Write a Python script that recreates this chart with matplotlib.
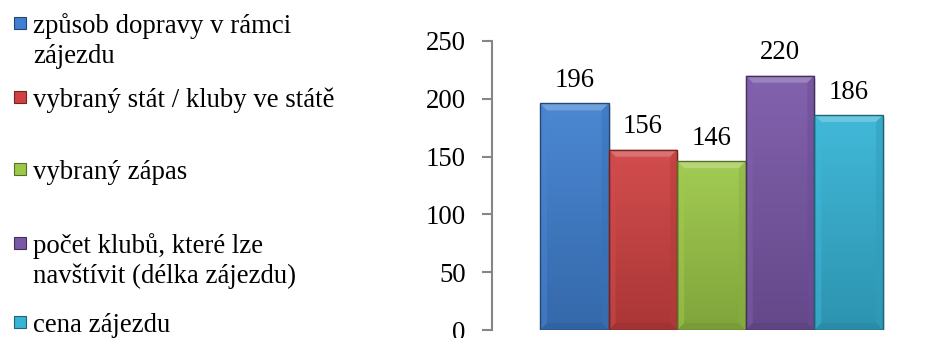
import numpy as np
import matplotlib
matplotlib.use("Agg")
import matplotlib.pyplot as plt
from matplotlib.patches import Rectangle, Polygon
from matplotlib.colors import to_rgb

# Survey answers: what decides the choice of a football trip
labels = [
    "způsob dopravy v rámci\nzájezdu",
    "vybraný stát / kluby ve státě",
    "vybraný zápas",
    "počet klubů, které lze\nnavštívit (délka zájezdu)",
    "cena zájezdu",
]
values = [196, 156, 146, 220, 186]
colors = ["#4080d0", "#d04242", "#9cc848", "#7a58a8", "#36b4d6"]
yticks = [0, 50, 100, 150, 200, 250]

W, H = 938, 338
plt.rcParams["font.family"] = ["Liberation Serif", "DejaVu Serif"]
FS = 19.3

fig = plt.figure(figsize=(W / 100, H / 100), dpi=100)
ax = fig.add_axes([492 / W, 8 / H, (931 - 492) / W, (330 - 41) / H])

n = len(values)
bw = 1.0 / n
xs = (np.arange(n) - (n - 1) / 2) * bw
ax.set_xlim(-0.64, 0.64)
ax.set_ylim(0, 250)


def shade(c, f):
    r = np.array(to_rgb(c))
    if f >= 0:
        return tuple(r + (1 - r) * f)
    return tuple(r * (1 + f))


bars = ax.bar(xs, values, width=bw, color=colors, edgecolor="none", zorder=2)

# pixel -> data scale factors
px_x = (ax.get_xlim()[1] - ax.get_xlim()[0]) / (931 - 492)
px_y = 250 / (330 - 41)

for bar, c in zip(bars, colors):
    x0, y0 = bar.get_x(), bar.get_y()
    w, h = bar.get_width(), bar.get_height()
    x1, y1 = x0 + w, y0 + h
    # soft drop shadow
    ax.add_patch(Rectangle((x0 + 2 * px_x, y0 - 3 * px_y), w, h,
                           facecolor="#000000", alpha=0.10, lw=0, zorder=1.5))
    # vertical gradient, lighter at the top
    top = np.array(shade(c, 0.06))
    bot = np.array(shade(c, -0.18))
    t = np.linspace(0, 1, 64)[:, None]
    grad = (bot[None, :] * (1 - t) + top[None, :] * t)[:, None, :]
    im = ax.imshow(grad, extent=[x0, x1, y0, y1], origin="lower",
                   aspect="auto", zorder=2.1, interpolation="bilinear")
    im.set_clip_path(bar)
    # bevel edges
    bx, by = 7 * px_x, 7 * px_y
    bevels = [
        ([(x0, y1), (x1, y1), (x1 - bx, y1 - by), (x0 + bx, y1 - by)], shade(c, 0.28), 0.9),
        ([(x0, y0), (x1, y0), (x1 - bx, y0 + by), (x0 + bx, y0 + by)], shade(c, -0.25), 0.6),
        ([(x0, y0), (x0, y1), (x0 + bx, y1 - by), (x0 + bx, y0 + by)], shade(c, 0.04), 0.5),
        ([(x1, y0), (x1, y1), (x1 - bx, y1 - by), (x1 - bx, y0 + by)], shade(c, -0.12), 0.5),
    ]
    for pts, fc, a in bevels:
        ax.add_patch(Polygon(pts, closed=True, facecolor=fc, edgecolor="none",
                             alpha=a, zorder=2.2))
    ax.add_patch(Rectangle((x0, y0), w, h, facecolor="none",
                           edgecolor=shade(c, -0.45), lw=1.0, zorder=2.3))
    ax.annotate(f"{bar.get_height():g}", (bar.get_x() + w / 2, y1),
                xytext=(0, 7.5), textcoords="offset points",
                ha="center", va="bottom", fontsize=FS, color="#000000")

ax.set_xticks([])
ax.set_yticks(yticks)
ax.tick_params(axis="y", direction="out", length=7, width=1.5, color="#868686",
               labelsize=FS, pad=12)
for s in ["top", "right", "bottom"]:
    ax.spines[s].set_visible(False)
ax.spines["left"].set_color("#868686")
ax.spines["left"].set_linewidth(1.5)

# legend on the left
marker_cy = [23, 97, 169, 243, 322]
line_gap = 30
for lab, c, cy in zip(labels, colors, marker_cy):
    s = 12
    fig.add_artist(Rectangle((14 / W, 1 - (cy + s / 2) / H), s / W, s / H,
                             transform=fig.transFigure, facecolor=c,
                             edgecolor=shade(c, -0.45), lw=0.8))
    for i, line in enumerate(lab.split("\n")):
        fig.text(33 / W, 1 - (cy + 10 + i * line_gap) / H, line, fontsize=FS,
                 va="baseline", ha="left", color="#000000")

fig.savefig("out.png", dpi=100)
